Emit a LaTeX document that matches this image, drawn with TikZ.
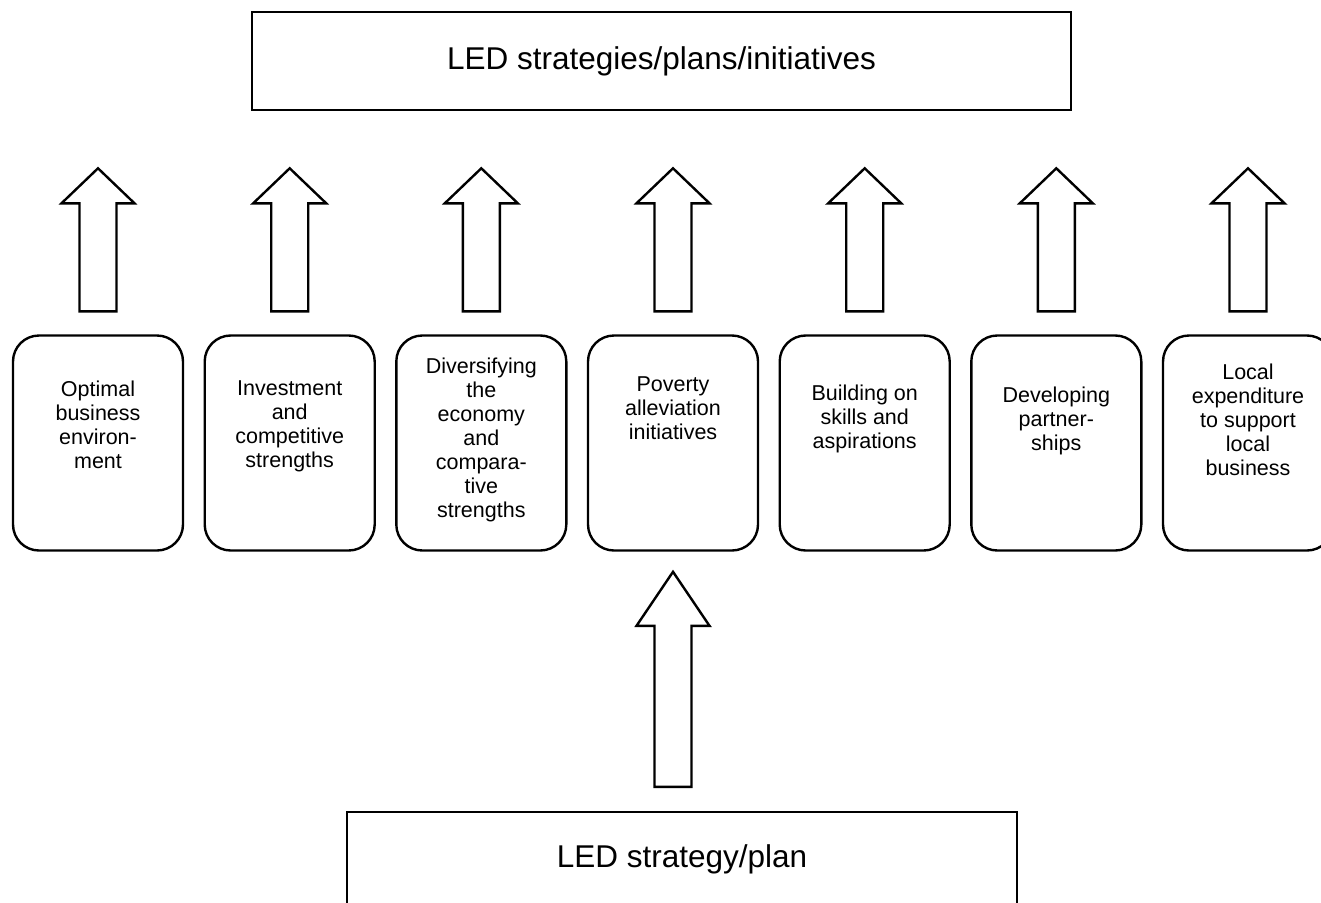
\documentclass[tikz,border=0pt]{standalone}
\usepackage{fontspec}
\setmainfont{Liberation Sans}
\usetikzlibrary{calc}

\tikzset{
  inkline/.style={line width=2.4pt, draw=black, line join=miter},
  titlebox/.style={inkline, inner sep=0pt, font=\fontsize{31.5}{38}\selectfont},
  optbox/.style={inkline, rounded corners=26pt, minimum width=170pt,
    minimum height=215pt, inner sep=0pt},
  boxtext/.style={align=center, inner sep=0pt, anchor=north,
    font=\fontsize{21.5}{24}\selectfont},
  % hollow block arrow pointing up; origin = middle of the shaft foot
  % #1 = shaft length, #2 = head length
  pics/blockup/.style 2 args={code={
    \draw[inkline] (-18.5,0) -- (-18.5,-#1) -- (-36.5,-#1) -- (0,{-#1-#2})
      -- (36.5,-#1) -- (18.5,-#1) -- (18.5,0) -- cycle;}}
}

\begin{document}
\begin{tikzpicture}[x=1pt, y=-1pt]
\useasboundingbox (0,0) rectangle (1321,902);
\clip (0,0) rectangle (1321,902);

% top and bottom frames
\node[titlebox, minimum width=819pt, minimum height=98pt] (top) at (661.5,61)
  {\raisebox{-3pt}{LED strategies/plans/initiatives}};
\node[titlebox, minimum width=670pt, minimum height=94pt] (base) at (682,859)
  {LED strategy/plan};

% the seven themes
\node[optbox] (b1) at (98,443) {};
\node[optbox] (b2) at (289.7,443) {};
\node[optbox] (b3) at (481.3,443) {};
\node[optbox] (b4) at (673,443) {};
\node[optbox] (b5) at (864.7,443) {};
\node[optbox] (b6) at (1056.3,443) {};
\node[optbox] (b7) at (1248,443) {};

\node[boxtext] (t1) at ($(b1.north)+(0,46)$) {Optimal\\business\\environ-\\ment};
\node[boxtext] (t2) at ($(b2.north)+(0,46)$) {Investment\\and\\competitive\\strengths};
\node[boxtext] (t3) at ($(b3.north)+(0,23)$) {Diversifying\\the\\economy\\and\\compara-\\tive\\strengths};
\node[boxtext] (t4) at ($(b4.north)+(0,42)$) {Poverty\\alleviation\\initiatives};
\node[boxtext] (t5) at ($(b5.north)+(0,50)$) {Building on\\skills and\\aspirations};
\node[boxtext] (t6) at ($(b6.north)+(0,52)$) {Developing\\partner-\\ships};
\node[boxtext] (t7) at ($(b7.north)+(0,29)$) {Local\\expenditure\\to support\\local\\business};

% arrows from each theme up to the strategies
\foreach \b in {b1,b2,b3,b4,b5,b6,b7}
  \pic at ($(\b.north)+(0,-23)$) {blockup={108}{35}};

% arrow from the plan up to the themes
\pic at ($(b4.south |- base.north)+(0,-24)$) {blockup={161}{54}};
\end{tikzpicture}
\end{document}
